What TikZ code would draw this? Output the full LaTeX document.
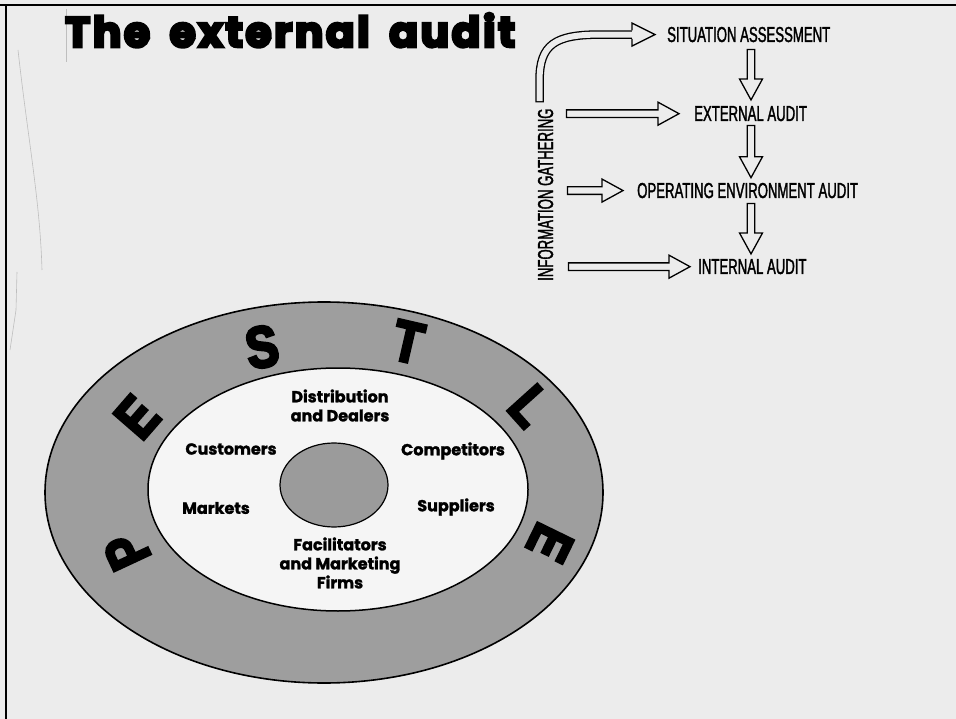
\documentclass[tikz,border=0pt]{standalone}
\usepackage{fontspec}
\usetikzlibrary{calc}
\setmainfont{Liberation Sans}
\newfontfamily\titlefont{Poppins}[FakeBold=6.5, LetterSpace=6, WordSpace=1.7]
\newfontfamily\labelfont{Poppins}[FakeBold=1.6]
\newfontfamily\condfont{Liberation Sans}[FakeStretch=0.61, FakeBold=1.5]
\newfontfamily\pestfont{Liberation Sans}[FakeStretch=0.82, FakeBold=5]
\definecolor{paper}{RGB}{236,236,236}
\definecolor{ringgray}{RGB}{158,158,158}
\definecolor{hubgray}{RGB}{155,155,155}
\definecolor{innerwhite}{RGB}{245,245,245}
\definecolor{scanmark}{RGB}{190,190,190}

% hollow block arrows: shaft half width 3.8, head half width 11.5, head length 21
\newcommand\hollowright[2]{%
  \filldraw[hollow] ($(#1)+(0,-3.8)$) -- ($(#2)+(-21,-3.8)$) -- ($(#2)+(-21,-11.5)$)
    -- (#2) -- ($(#2)+(-21,11.5)$) -- ($(#2)+(-21,3.8)$) -- ($(#1)+(0,3.8)$) -- cycle;}
\newcommand\hollowdown[2]{%
  \filldraw[hollow] ($(#1)+(-3.8,0)$) -- ($(#2)+(-3.8,-21)$) -- ($(#2)+(-11.5,-21)$)
    -- (#2) -- ($(#2)+(11.5,-21)$) -- ($(#2)+(3.8,-21)$) -- ($(#1)+(3.8,0)$) -- cycle;}

\begin{document}
\begin{tikzpicture}[x=1pt, y=-1pt,
  hollow/.style={draw=black, line width=1.3pt, fill=paper, line join=miter},
  caption/.style={font=\condfont\fontsize{21.6}{22}\selectfont, inner sep=0pt, anchor=base west},
  ringlabel/.style={font=\labelfont\bfseries\fontsize{16}{19}\selectfont, align=center, inner sep=0pt},
  pestle/.style={font=\pestfont\bfseries\fontsize{58}{58}\selectfont, inner sep=0pt},
  scan/.style={draw=scanmark, line width=0.6pt}]

% page
\fill[paper] (0,0) rectangle (956,719);
\useasboundingbox (0,0) rectangle (956,719);
\draw[line width=2.6pt] (0,5) -- (956,5);
\draw[line width=2.6pt] (6,5) -- (6,719);
\draw[scan] (18,50) .. controls (28,140) and (40,200) .. (42,270);
\draw[scan] (17,272) -- (16,310) -- (10,350);
\draw[scan, line width=0.5pt] (66,9) -- (66,62);

% title
\node[font=\titlefont\bfseries, anchor=base west, inner sep=0pt] (title) at (65,47)
  {\resizebox{450pt}{!}{The external audit}};

% audit sequence
\node[caption] (sa)  at (667,42)  {SITUATION ASSESSMENT};
\node[caption] (ea)  at (694,121) {EXTERNAL AUDIT};
\node[caption] (oea) at (637,198) {OPERATING ENVIRONMENT AUDIT};
\node[caption] (ia)  at (698,274) {INTERNAL AUDIT};
\node[caption, rotate=90] (ig) at (553,281) {INFORMATION GATHERING};

% downward arrows between the stages
\coordinate (col) at (751,0);
\path (sa.south -| col)  ++(0,7)  coordinate (d1s);
\path (ea.north -| col)  ++(0,-6) coordinate (d1e);
\path (ea.south -| col)  ++(0,4)  coordinate (d2s);
\path (oea.north -| col) ++(0,-5) coordinate (d2e);
\path (oea.south -| col) ++(0,5)  coordinate (d3s);
\path (ia.north -| col)  ++(0,-5) coordinate (d3e);
\hollowdown{d1s}{d1e}
\hollowdown{d2s}{d2e}
\hollowdown{d3s}{d3e}

% arrows from information gathering
\path (ea.west)  ++(-15,0) coordinate (h2e);
\path (h2e -| ig.south) ++(13,0) coordinate (h2s);
\path (oea.west) ++(-14,0) coordinate (h3e);
\path (h3e -| ig.south) ++(14,0) coordinate (h3s);
\path (ia.west)  ++(-8,0)  coordinate (h4e);
\path (h4e -| ig.south) ++(15,0) coordinate (h4s);
\hollowright{h2s}{h2e}
\hollowright{h3s}{h3e}
\hollowright{h4s}{h4e}

% curved arrow up to the situation assessment
\path (ig.east) ++(-6,-6) coordinate (cs);
\path (sa.west) ++(-12,0) coordinate (ct);
\draw[line width=8.6pt] (cs) -- ($(cs)+(0,-22)$)
  .. controls ($(cs)+(0,-58)$) and ($(ct)+(-100,0)$) .. ($(ct)+(-55,0)$) -- ($(ct)+(-23,0)$);
\draw[paper, line width=6pt, shorten <=1.3pt] (cs) -- ($(cs)+(0,-22)$)
  .. controls ($(cs)+(0,-58)$) and ($(ct)+(-100,0)$) .. ($(ct)+(-55,0)$) -- ($(ct)+(-21,0)$);
\fill[paper] ($(ct)+(-23,-11.5)$) -- (ct) -- ($(ct)+(-23,11.5)$) -- cycle;
\draw[line width=1.3pt, line join=miter] ($(ct)+(-23,-4.3)$) -- ($(ct)+(-23,-11.5)$)
  -- (ct) -- ($(ct)+(-23,11.5)$) -- ($(ct)+(-23,4.3)$);

% PESTLE rings
\filldraw[fill=ringgray, line width=1.6pt] (324,492.5) ellipse [x radius=279pt, y radius=190.5pt];
\filldraw[fill=innerwhite, line width=1.5pt] (338,489.5) ellipse [x radius=190pt, y radius=121.5pt];
\filldraw[fill=hubgray, line width=1.2pt] (334,485) ellipse [x radius=54pt, y radius=42pt];

\node[pestle, rotate=115]    (lp)  at (127,551) {P};
\node[pestle, rotate=49]     (le1) at (137,417) {E};
\node[pestle, rotate=10]     (ls)  at (262,347) {S};
\node[pestle, rotate=-13]    (lt)  at (408,342) {T};
\node[pestle, rotate=-48]    (ll)  at (530,406) {L};
\node[pestle, rotate=-116]   (le2) at (550,543) {E};

\node[ringlabel] (dist) at (340,405.5) {Distribution\\and Dealers};
\node[ringlabel] (cust) at (231,449) {Customers};
\node[ringlabel] (comp) at (453,451) {Competitors};
\node[ringlabel] (mark) at (216,508) {Markets};
\node[ringlabel] (supp) at (456,507) {Suppliers};
\node[ringlabel] (faci) at (340,563) {Facilitators\\and Marketing\\Firms};
\end{tikzpicture}
\end{document}
